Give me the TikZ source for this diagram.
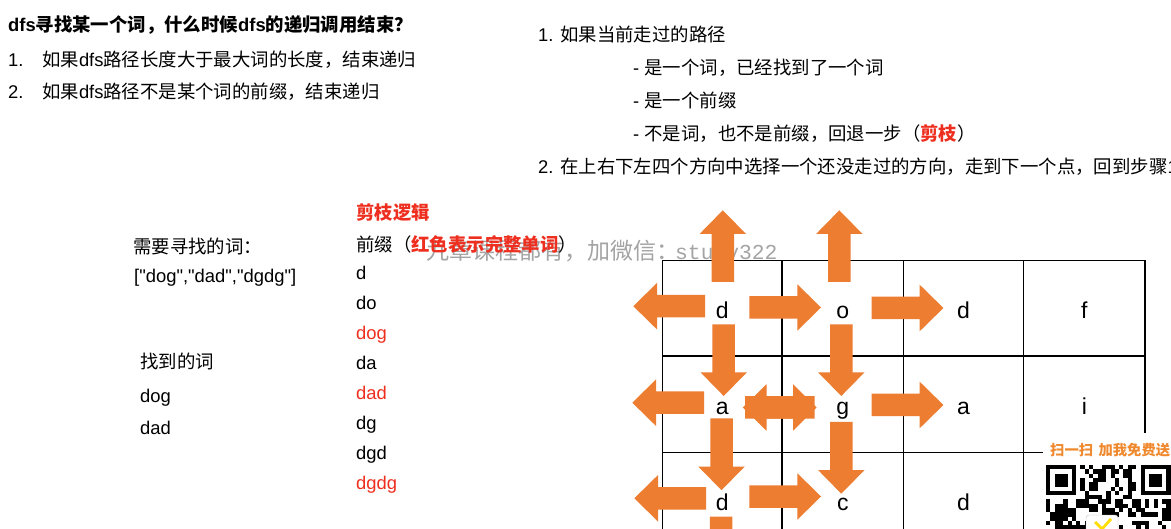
\documentclass[tikz,border=0pt]{standalone}
\usepackage{fontspec}
\setmainfont{Liberation Sans}[Ligatures=TeXOff]
\newfontfamily\cjk{Noto Sans CJK SC}
\newfontfamily\wmlatin{Liberation Mono}
\usetikzlibrary{calc}

\definecolor{arroworange}{HTML}{ED7D31}
\definecolor{keyred}{HTML}{EE2F1F}
\definecolor{qrorange}{HTML}{F0892D}
\definecolor{wmgray}{HTML}{A4A4A4}

\newcommand\zh[1]{{\cjk #1}}
% block arrow: tail point, direction angle (length 71.7, shaft 22.5, head 46.5)
\newcommand\blockarrow[2]{%
  \fill[blockarrow, shift={#1}, rotate=#2]
    (0,-11.25) -- (48,-11.25) -- (48,-23.25) -- (71.7,0) -- (48,23.25)
    -- (48,11.25) -- (0,11.25) -- cycle;}

\tikzset{
  txt/.style={anchor=base west, inner sep=0pt, font=\fontsize{18.4}{22}\selectfont},
  cell/.style={anchor=base, inner sep=0pt, font=\fontsize{23}{27}\selectfont},
  blockarrow/.style={fill=arroworange},
  gridline/.style={line width=1.1pt, draw=black},
  wm/.style={anchor=base west, inner sep=0pt, text=wmgray},
}

\begin{document}
\begin{tikzpicture}[x=1pt, y=-1pt]
\useasboundingbox (0,0) rectangle (1171,529);
\clip (0,0) rectangle (1171,529);
\fill[white] (0,0) rectangle (1171,529);

% watermark
\node[wm, font=\fontsize{23}{27}\selectfont\cjk] (wmzh) at (426.7,259.5) {九章课程都有，加微信：};
\node[wm, font=\fontsize{21.3}{25}\selectfont\wmlatin] (wmid) at (675,259.5) {study322};

% top left: termination conditions
\node[txt, font=\fontsize{18.4}{22}\selectfont\bfseries] (title) at (8,32)
  {dfs\zh{寻找某一个词，什么时候}dfs\zh{的递归调用结束？}};
\node[txt] (n1) at (8,67) {1.};
\node[txt] (s1) at (42,67) {\zh{如果}dfs\zh{路径长度大于最大词的长度，结束递归}};
\node[txt] (n2) at (8,99) {2.};
\node[txt] (s2) at (42,99) {\zh{如果}dfs\zh{路径不是某个词的前缀，结束递归}};

% top right: search steps
\node[txt] (r1) at (538,42) {1. \zh{如果当前走过的路径}};
\node[txt] (r2) at (633,75) {- \zh{是一个词，已经找到了一个词}};
\node[txt] (r3) at (633,108) {- \zh{是一个前缀}};
\node[txt] (r4) at (633,141) {- \zh{不是词，也不是前缀，回退一步（{\color{keyred}\bfseries 剪枝}）}};
\node[txt] (r5) at (538,174) {2. \zh{在上右下左四个方向中选择一个还没走过的方向，走到下一个点，回到步骤}1};

% words to find
\node[txt] (need) at (133,253.5) {\zh{需要寻找的词：}};
\node[txt] (words) at (134,282.5) {["dog","dad","dgdg"]};
\node[txt] (found) at (140,369) {\zh{找到的词}};
\node[txt] (f1) at (140,402.7) {dog};
\node[txt] (f2) at (140,435) {dad};

% pruning logic: prefixes
\node[txt, font=\fontsize{18.4}{22}\selectfont\bfseries, text=keyred] (prune) at (356,220) {\zh{剪枝逻辑}};
\node[txt] (pre) at (356,252) {\zh{前缀（{\color{keyred}\bfseries 红色表示完整单词}）}};
\node[txt] (p1) at (356,279.5) {d};
\node[txt] (p2) at (356,309.5) {do};
\node[txt, text=keyred] (p3) at (356,339.5) {dog};
\node[txt] (p4) at (356,369.5) {da};
\node[txt, text=keyred] (p5) at (356,399.5) {dad};
\node[txt] (p6) at (356,429.5) {dg};
\node[txt] (p7) at (356,459.5) {dgd};
\node[txt, text=keyred] (p8) at (356,489.5) {dgdg};

% board grid
\foreach \gx in {662.3,782,903.5,1023.7,1145}
  \draw[gridline] (\gx,260.3) -- (\gx,540);
\foreach \gy in {260.3,356,452.3}
  \draw[gridline] (662.3,\gy) -- (1145,\gy);

% board letters
\node[cell] (c11) at (722.2,318.5) {d};
\node[cell] (c12) at (842.8,318.5) {o};
\node[cell] (c13) at (963.6,318.5) {d};
\node[cell] (c14) at (1084.4,318.5) {f};
\node[cell] (c21) at (722.2,414.8) {a};
\node[cell] (c22) at (842.8,414.8) {g};
\node[cell] (c23) at (963.6,414.8) {a};
\node[cell] (c24) at (1084.4,414.8) {i};
\node[cell] (c31) at (722.2,511) {d};
\node[cell] (c32) at (842.8,511) {c};
\node[cell] (c33) at (963.6,511) {d};

% search moves
\blockarrow{(722.8,282)}{90}
\blockarrow{(705,306.2)}{180}
\blockarrow{(749.3,307.5)}{0}
\blockarrow{(723.7,324.3)}{-90}
\blockarrow{(839.3,282)}{90}
\blockarrow{(871.7,308)}{0}
\blockarrow{(841.3,324.3)}{-90}
\blockarrow{(704,402.7)}{180}
\blockarrow{(814.5,407.5)}{180}
\blockarrow{(745,407.5)}{0}
\blockarrow{(721.5,418.5)}{-90}
\blockarrow{(871.7,405)}{0}
\blockarrow{(841.3,422)}{-90}
\blockarrow{(706,498.3)}{180}
\blockarrow{(749.3,496.5)}{0}
\blockarrow{(721.2,516.7)}{-90}

% scan card in the corner
\fill[white] (1043,433) rectangle (1171,529);
\node[anchor=base west, inner sep=0pt, text=qrorange, font=\fontsize{14.3}{17}\selectfont\bfseries\cjk] (scan) at (1050,455.4) {扫一扫\hspace{5.5pt}加我免费送};
\begin{scope}[shift={(1046,465)}]
  \pgfmathsetseed{42}
  \foreach \qi in {0,...,28}{
    \foreach \qj in {0,...,15}{
      \pgfmathtruncatemacro\qrfree{((\qi<8)&&(\qj<8)) || ((\qi>20)&&(\qj<8))}
      \ifnum\qrfree=0
        \pgfmathsetmacro\qrr{rnd}
        \ifdim\qrr pt<0.5pt
          \fill[black] (\qi*4.3,\qj*4.3) rectangle ++(4.35,4.35);
        \fi
      \fi
    }
  }
  \foreach \qo in {0,94.6}{
    \fill[black] (\qo,0) rectangle ++(30.1,30.1);
    \fill[white] (\qo+4.3,4.3) rectangle ++(21.5,21.5);
    \fill[black] (\qo+8.6,8.6) rectangle ++(12.9,12.9);
  }
  \fill[white, draw=black!25, rounded corners=3pt] (40,50) rectangle ++(32,20);
  \fill[yellow!80!orange] (50,56) -- (56,62) -- (64,53) -- (66,55) -- (56,66) -- (48,58) -- cycle;
\end{scope}
\end{tikzpicture}
\end{document}
